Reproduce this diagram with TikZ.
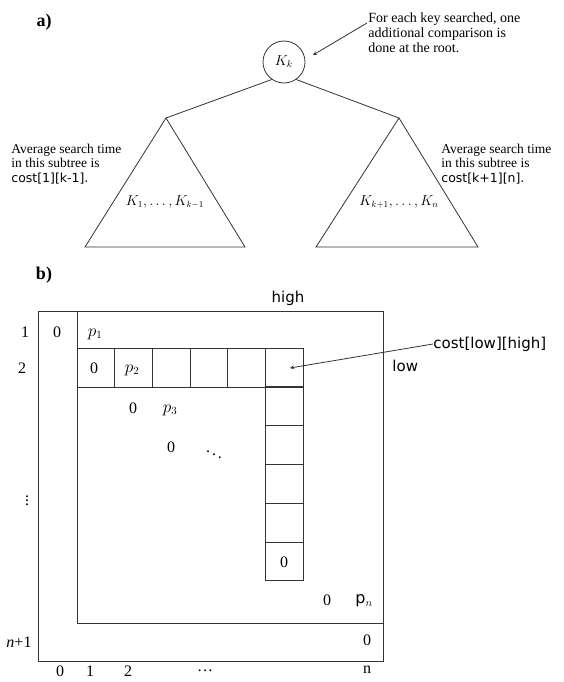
\documentclass[tikz,border=0pt]{standalone}
\usepackage{amsmath}
\usepackage{fontspec}
\setmainfont{Liberation Serif}
\setsansfont{DejaVu Sans}
\usepackage{tikz}

\begin{document}
\begin{tikzpicture}[x=1pt, y=-1pt, line width=0.8pt, draw=black!80,
    note/.style={font=\fontsize{14}{15}\selectfont, align=left, inner sep=0pt},
    side/.style={font=\fontsize{13.5}{14.5}\selectfont, align=left, inner sep=0pt, anchor=west},
    entry/.style={font=\fontsize{16}{18}\selectfont, inner sep=0pt},
    word/.style={font=\sffamily\fontsize{15}{17}\selectfont, inner sep=0pt},
    part/.style={font=\bfseries\fontsize{18}{20}\selectfont, inner sep=0pt}]
  \useasboundingbox (0,0) rectangle (564,682);

  % a) the tree with root K_k
  \node[part] (parta) at (44,22) {a)};
  \node[draw, circle, minimum size=42pt, inner sep=0pt,
    font=\fontsize{14}{16}\selectfont] (root) at (284,62) {$K_k$};
  \coordinate (lapex) at (166,118);
  \coordinate (rapex) at (399,118);
  \draw (root.235) -- (lapex);
  \draw (root.305) -- (rapex);
  \draw (lapex) -- (85,247) -- (245,247) -- cycle;
  \draw (rapex) -- (316,247) -- (478,247) -- cycle;
  \node[font=\fontsize{13.5}{15}\selectfont] (lkeys) at (165,202) {$K_1, \ldots, K_{k-1}$};
  \node[font=\fontsize{13.5}{15}\selectfont] (rkeys) at (399,202) {$K_{k+1}, \ldots, K_n$};

  \node[note, anchor=north west] (remark) at (368,12)
    {For each key searched, one\\additional comparison is\\done at the root.};
  \coordinate (kin) at (313,55);
  \draw[-stealth] ([shift={(-1,11)}]remark.north west) -- (kin);

  \node[side] (lcost) at (11,164)
    {Average search time\\in this subtree is\\{\sffamily\fontsize{12.5}{14.5}\selectfont cost[1][k-1].}};
  \node[side] (rcost) at (441,164)
    {Average search time\\in this subtree is\\{\sffamily\fontsize{12.5}{14.5}\selectfont cost[k+1][n].}};

  % b) the cost table
  \node[part] (partb) at (44,275) {b)};
  \node[word] (high) at (288,298) {high};
  \draw (38,311) rectangle (383,661);
  \draw (77,311) -- (77,623) -- (383,623);
  \foreach \i in {0,...,5}
    \draw (77+37.7*\i,348) rectangle ++(37.7,39);
  \foreach \j in {1,...,5}
    \draw (265.5,348+38.8*\j) rectangle ++(37.7,38.8);

  \node[word, anchor=west] (costlh) at (433,344) {cost[low][high]};
  \coordinate (cell) at (290,368);
  \draw[-stealth] (costlh.west) -- (cell);
  \node[word, anchor=west] (low) at (392,366) {low};

  \node[entry] (row1) at (25,332) {1};
  \node[entry] (row2) at (22,368) {2};
  \node[entry] (rowdots) at (27,498) {$\vdots$};
  \node[entry] (rowlast) at (19,642) {\textit{n}+1};

  \node[entry] (z1) at (57,332) {0};
  \node[entry] (p1) at (95,334) {$p_1$};
  \node[entry] (z2) at (94,368) {0};
  \node[entry] (p2) at (132,370) {$p_2$};
  \node[entry] (z3) at (133,408) {0};
  \node[entry] (p3) at (170,410) {$p_3$};
  \node[entry] (z4) at (171,447) {0};
  \node[entry] (dg) at (214,452) {$\ddots$};
  \node[entry] (zc) at (284,562) {0};
  \node[entry] (zn) at (327,600) {0};
  \node[entry] (pn) at (364,601) {\textsf{p}$_n$};
  \node[entry] (zl) at (367,640) {0};

  \node[entry] (col0) at (60,671) {0};
  \node[entry] (col1) at (90,671) {1};
  \node[entry] (col2) at (128,671) {2};
  \node[entry] (coldots) at (205,671) {\dots};
  \node[entry] (coln) at (367,670) {n};
\end{tikzpicture}
\end{document}
